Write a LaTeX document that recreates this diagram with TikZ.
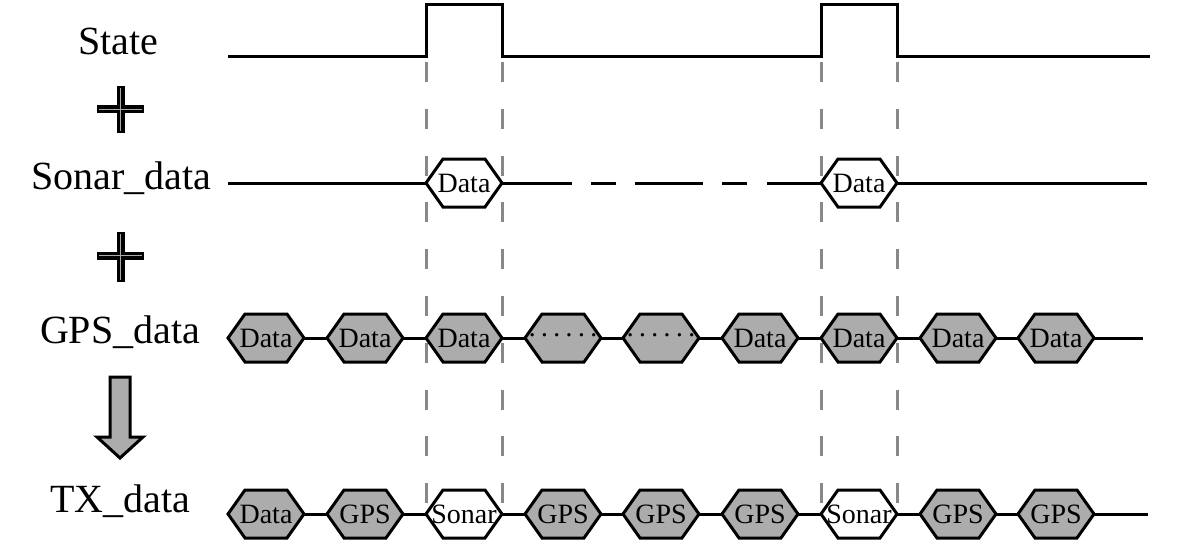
\documentclass[tikz,border=0pt]{standalone}
\usepackage{fontspec}
\setmainfont{Liberation Serif}
\definecolor{hexgray}{RGB}{172,172,172}
\definecolor{guidegray}{RGB}{136,136,136}
\definecolor{plusgray}{RGB}{170,170,170}
\newcommand\hexfont{\fontsize{28}{30}\selectfont}
\newcommand\lblfont{\fontsize{40}{44}\selectfont}
\newcommand\sixdots{\raisebox{-6.5pt}[0pt][0pt]{·\kern3pt·\kern3pt·\kern3pt·\kern3pt·\kern3pt·}}
% #1 name, #2 x, #3 y, #4 fill, #5 text
\newcommand\hexa[5]{%
  \filldraw[hexline, fill=#4] (#2-38,#3) -- (#2-21,#3-24) -- (#2+21,#3-24) -- (#2+38,#3) -- (#2+21,#3+24) -- (#2-21,#3+24) -- cycle;
  \node[hexbox] (#1) at (#2,#3) {#5};
}
\begin{document}
\begin{tikzpicture}[x=1pt,y=-1pt,
  sig/.style={line width=3pt, draw=black, line join=miter},
  hexline/.style={line width=3pt, line join=miter, draw=black},
  hexbox/.style={draw=none, minimum width=76pt, minimum height=48pt, inner sep=0pt, font=\hexfont},
  lbl/.style={font=\lblfont, anchor=base, inner sep=0pt},
  guide/.style={line width=3pt, draw=guidegray, dash pattern=on 20pt off 26.8pt},
  plusbar/.style={line width=8pt, draw=black},
  plusline/.style={line width=1pt, draw=plusgray},
  ]
\useasboundingbox (0,0) rectangle (1181,543);

% labels
\node[lbl] (lstate) at (118,55) {State};
\node[lbl] (lsonar) at (121,189) {Sonar\_data};
\node[lbl] (lgps) at (120,343) {GPS\_data};
\node[lbl] (ltx) at (120,512) {TX\_data};

% plus signs
\draw[plusbar] (97,109) -- (144,109) (120.5,86) -- (120.5,133);
\draw[plusline] (99,109) -- (142,109) (120.5,88) -- (120.5,131);
\draw[plusbar] (97,255.5) -- (144,255.5) (120.5,232) -- (120.5,282);
\draw[plusline] (99,255.5) -- (142,255.5) (120.5,234) -- (120.5,280);

% down arrow
\filldraw[line width=3pt, fill=hexgray, line join=miter] (110,377) -- (130,377) -- (130,437) -- (143,437) -- (120,458) -- (97,437) -- (110,437) -- cycle;

% dashed guides
\coordinate (ga1) at (426,62); \coordinate (gb1) at (426,503);
\coordinate (ga2) at (502,62); \coordinate (gb2) at (502,503);
\coordinate (ga3) at (821,62); \coordinate (gb3) at (821,503);
\coordinate (ga4) at (897,62); \coordinate (gb4) at (897,503);
\draw[guide] (ga1) -- (gb1);
\draw[guide] (ga2) -- (gb2);
\draw[guide] (ga3) -- (gb3);
\draw[guide] (ga4) -- (gb4);

% State waveform
\coordinate (st0) at (228,57);
\coordinate (st5) at (1150,57);
\draw[sig] (st0) -- (426,57) -- (426,5) -- (502,5) -- (502,57) -- (821,57) -- (821,5) -- (897,5) -- (897,57) -- (st5);

% Sonar row
\hexa{s1}{464}{183}{white}{Data}
\hexa{s2}{859}{183}{white}{Data}
\coordinate (so0) at (228,183);
\coordinate (so3) at (1147,183);
\draw[sig] (so0) -- (s1.west);
\draw[sig, dash pattern=on 70pt off 19pt on 25pt off 19pt on 68pt off 19pt on 25pt off 20pt on 100pt] (s1.east) -- (s2.west);
\draw[sig] (s2.east) -- (so3);

% GPS row
\hexa{g1}{266}{338}{hexgray}{Data}
\hexa{g2}{365}{338}{hexgray}{Data}
\hexa{g3}{464}{338}{hexgray}{Data}
\hexa{g4}{563}{338}{hexgray}{\sixdots}
\hexa{g5}{661}{338}{hexgray}{\sixdots}
\hexa{g6}{760}{338}{hexgray}{Data}
\hexa{g7}{859}{338}{hexgray}{Data}
\hexa{g8}{958}{338}{hexgray}{Data}
\hexa{g9}{1056}{338}{hexgray}{Data}
\coordinate (gend) at (1143,338);
\draw[sig] (g1.east) -- (g2.west) (g2.east) -- (g3.west) (g3.east) -- (g4.west)
  (g4.east) -- (g5.west) (g5.east) -- (g6.west) (g6.east) -- (g7.west)
  (g7.east) -- (g8.west) (g8.east) -- (g9.west) (g9.east) -- (gend);

% TX row
\hexa{t1}{266}{514}{hexgray}{Data}
\hexa{t2}{365}{514}{hexgray}{GPS}
\hexa{t3}{464}{514}{white}{Sonar}
\hexa{t4}{563}{514}{hexgray}{GPS}
\hexa{t5}{661}{514}{hexgray}{GPS}
\hexa{t6}{760}{514}{hexgray}{GPS}
\hexa{t7}{859}{514}{white}{Sonar}
\hexa{t8}{958}{514}{hexgray}{GPS}
\hexa{t9}{1056}{514}{hexgray}{GPS}
\coordinate (tend) at (1148,514);
\draw[sig] (t1.east) -- (t2.west) (t2.east) -- (t3.west) (t3.east) -- (t4.west)
  (t4.east) -- (t5.west) (t5.east) -- (t6.west) (t6.east) -- (t7.west)
  (t7.east) -- (t8.west) (t8.east) -- (t9.west) (t9.east) -- (tend);
\end{tikzpicture}
\end{document}
